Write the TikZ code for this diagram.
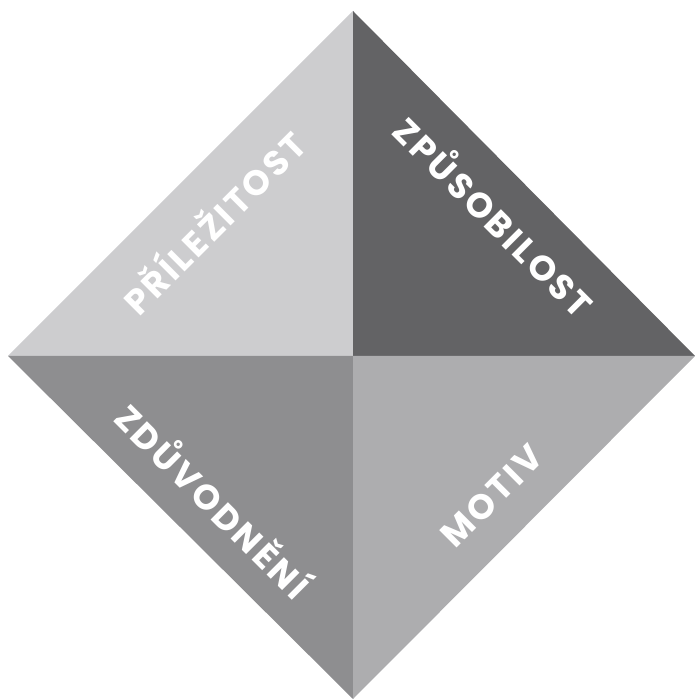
\documentclass[tikz,border=0pt]{standalone}
\usepackage{fontspec}
\setsansfont{Poppins}[LetterSpace=8]
\definecolor{paleq}{HTML}{CDCDCF}
\definecolor{darkq}{HTML}{636365}
\definecolor{midq}{HTML}{8E8E90}
\definecolor{softq}{HTML}{ADADAF}
\begin{document}
\begin{tikzpicture}[x=1pt,y=1pt,
      quadlabel/.style={text=white,inner sep=0pt,
        font=\sffamily\bfseries\fontsize{35}{35}\selectfont}
      ]
      \useasboundingbox (0,0) rectangle (695,699);
      \coordinate (c) at (353,343);
      \coordinate (n) at (353,688);
      \coordinate (w) at (8,343);
      \coordinate (e) at (695,343);
      \coordinate (s) at (353,0);
      % the four quarters of the diamond
      \fill[paleq] (c) -- (w) -- (n) -- cycle;
      \fill[darkq] (c) -- (n) -- (e) -- cycle;
      \fill[midq]  (c) -- (w) -- (s) -- cycle;
      \fill[softq] (c) -- (s) -- (e) -- cycle;
      \node[quadlabel, rotate=45]  (prilezitost) at (212,478) {PŘÍLEŽITOST};
      \node[quadlabel, rotate=-45] (zpusobilost) at (496,484) {ZPŮSOBILOST};
      \node[quadlabel, rotate=-45] (zduvodneni)  at (215,200) {ZDŮVODNĚNÍ};
      \node[quadlabel, rotate=45]  (motiv)       at (492,203) {MOTIV};
    \end{tikzpicture}
\end{document}
